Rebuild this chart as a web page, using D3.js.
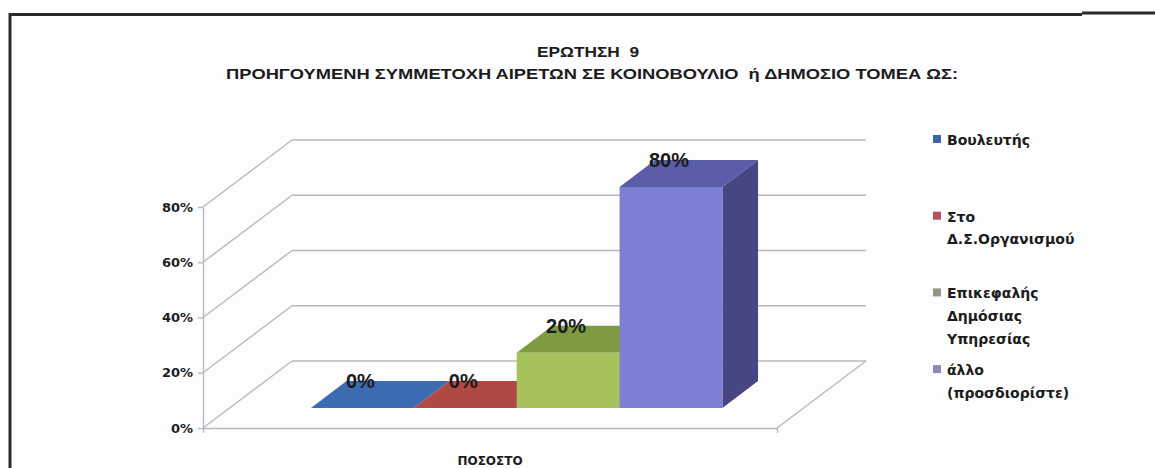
<!DOCTYPE html>
<html>
<head>
<meta charset="utf-8">
<script src="https://cdn.jsdelivr.net/npm/d3@7"></script>
<style>
    body { margin: 0; background: #fcfdfc; }
    svg { display: block; }
    .axis text { font-family: 'DejaVu Sans', sans-serif; font-weight: bold; font-size: 13px; fill: #1e1e22; }
    .axis line, .axis path { stroke: #b9b9bd; stroke-width: 1.4; }
    .grid line { stroke: #b9b9bd; stroke-width: 1.4; }
    .title { font-family: 'Liberation Sans', sans-serif; font-weight: bold; font-size: 15px; fill: #1c1c1e; }
    .legend text { font-family: 'DejaVu Sans', sans-serif; font-weight: bold; font-size: 14px; fill: #1c1c20; }
    .data-label { font-family: 'Liberation Sans', sans-serif; font-weight: bold; font-size: 20px; fill: #1a1a1a; }
    .axis-x text { font-size: 12px; }
</style>
</head>
<body>
<div class="chart-erotisi"><svg><g class="chart-erotisi-container"></g></svg></div>
<script>
'use strict';

var categories = ['ΠΟΣΟΣΤΟ'];
var seriesNames = ['Βουλευτής', 'Στο Δ.Σ.Οργανισμού', 'Επικεφαλής Δημόσιας Υπηρεσίας', 'άλλο (προσδιορίστε)'];
var legendLines = [['Βουλευτής'], ['Στο', 'Δ.Σ.Οργανισμού'], ['Επικεφαλής', 'Δημόσιας', 'Υπηρεσίας'], ['άλλο', '(προσδιορίστε)']];
var seriesValues = [0, 0, 0.2, 0.8];
var yTickValues = [0, 0.2, 0.4, 0.6, 0.8];
var titleLines = ['ΕΡΩΤΗΣΗ  9', 'ΠΡΟΗΓΟΥΜΕΝΗ ΣΥΜΜΕΤΟΧΗ ΑΙΡΕΤΩΝ ΣΕ ΚΟΙΝΟΒΟΥΛΙΟ  ή ΔΗΜΟΣΙΟ ΤΟΜΕΑ ΩΣ:'];

function bar3d() {
    var w = 1155;
    var h = 468;
    var plot = { left: 203, right: 777, bottom: 428, top: 207 };
    var depth = { x: 89, y: -67 };   // oblique depth of the floor
    var barDepth = [0.3, 0.7];       // bars sit in the middle of the floor
    var frontColor = ['#3d6db3', '#b34b47', '#a7c25a', '#7d7fd3'];
    var topColor = ['#3c6bb2', '#b04844', '#7f9b41', '#5b5ca9'];
    var sideColor = ['#2f5690', '#8e3a37', '#6c8537', '#454682'];
    var legendColor = ['#3c66a6', '#b6525f', '#8f9686', '#8c88ba'];
    var svg = d3.select('.chart-erotisi svg').attr('width', w).attr('height', h);
    var g = svg.select('.chart-erotisi-container');
    var scales = {};

    function setupScales() {
        scales.x0 = d3.scaleBand().domain(categories).range([plot.left, plot.right]);
        scales.x1 = d3.scaleBand().domain(seriesNames).range([0, scales.x0.bandwidth()])
            .paddingInner(0).paddingOuter(0.79);
        scales.y = d3.scaleLinear().domain([0, 0.8]).range([plot.bottom, plot.top]);
    }

    function pt(x, v, t) {
        return [x + t * depth.x, scales.y(v) + t * depth.y];
    }

    function poly(points) {
        return 'M' + points.map(function (p) { return p[0] + ',' + p[1]; }).join('L') + 'Z';
    }

    function drawFrame() {
        svg.insert('rect', ':first-child').attr('width', w).attr('height', h).attr('fill', '#fcfdfc');
        var frame = svg.append('g').attr('class', 'frame').attr('stroke', '#2a2a2f').attr('stroke-width', 3).attr('fill', 'none');
        frame.append('path').attr('d', 'M10,468V14.5H1082');
        frame.append('path').attr('d', 'M1082,13H1155');
    }

    function drawTitle() {
        var widths = [102, 732];
        var baselines = [57, 79];
        g.selectAll('.title').data(titleLines).enter().append('text')
            .attr('class', 'title')
            .attr('x', function (d, i) { return i === 0 ? 588 : 592; })
            .attr('y', function (d, i) { return baselines[i]; })
            .attr('text-anchor', 'middle')
            .attr('textLength', function (d, i) { return widths[i]; })
            .attr('lengthAdjust', 'spacingAndGlyphs')
            .style('white-space', 'pre')
            .text(function (d) { return d; });
    }

    function drawWalls() {
        var grid = g.append('g').attr('class', 'grid');
        // side wall diagonals
        grid.selectAll('.diag').data(yTickValues).enter().append('line')
            .attr('class', 'diag')
            .attr('x1', plot.left).attr('y1', function (d) { return scales.y(d); })
            .attr('x2', plot.left + depth.x).attr('y2', function (d) { return scales.y(d) + depth.y; });
        // back wall gridlines
        grid.selectAll('.back').data(yTickValues).enter().append('line')
            .attr('class', 'back')
            .attr('x1', plot.left + depth.x).attr('y1', function (d) { return scales.y(d) + depth.y; })
            .attr('x2', plot.right + depth.x).attr('y2', function (d) { return scales.y(d) + depth.y; });
        // floor right edge
        grid.append('line')
            .attr('x1', plot.right).attr('y1', plot.bottom)
            .attr('x2', plot.right + depth.x).attr('y2', plot.bottom + depth.y);
    }

    function drawAxes() {
        var axisY = d3.axisLeft(scales.y).tickValues(yTickValues)
            .tickFormat(d3.format('.0%')).tickSize(5).tickSizeOuter(0).tickPadding(5);
        g.append('g').attr('class', 'axis axis-y').attr('transform', 'translate(' + plot.left + ',0)').call(axisY);

        var axisX = d3.axisBottom(scales.x0).tickSize(0).tickSizeOuter(5).tickPadding(28);
        g.append('g').attr('class', 'axis axis-x').attr('transform', 'translate(0,' + plot.bottom + ')').call(axisX);
        g.selectAll('.axis .domain').attr('fill', 'none');
    }

    function drawBars() {
        var bars = g.append('g').attr('class', 'bars');
        var bw = scales.x1.bandwidth();
        var t1 = barDepth[0];
        var t2 = barDepth[1];
        seriesNames.forEach(function (name, i) {
            var x = scales.x0(categories[0]) + scales.x1(name);
            var v = seriesValues[i];
            var b = bars.append('g').attr('class', 'bar');
            if (v > 0) {
                b.append('path').attr('fill', sideColor[i])
                    .attr('d', poly([pt(x + bw, 0, t1), pt(x + bw, 0, t2), pt(x + bw, v, t2), pt(x + bw, v, t1)]));
            }
            b.append('path').attr('fill', topColor[i])
                .attr('d', poly([pt(x, v, t1), pt(x + bw, v, t1), pt(x + bw, v, t2), pt(x, v, t2)]));
            if (v > 0) {
                b.append('path').attr('fill', frontColor[i])
                    .attr('d', poly([pt(x, 0, t1), pt(x + bw, 0, t1), pt(x + bw, v, t1), pt(x, v, t1)]));
            }
        });

        bars.selectAll('.data-label').data(seriesValues).enter().append('text')
            .attr('class', 'data-label')
            .attr('text-anchor', 'middle')
            .attr('x', function (d, i) { return pt(scales.x0(categories[0]) + scales.x1(seriesNames[i]) + bw / 2, d, t1)[0] - 2; })
            .attr('y', function (d) { return pt(0, d, t1)[1] - 20; })
            .text(d3.format('.0%'));
    }

    function drawLegend() {
        var legend = g.append('g').attr('class', 'legend').attr('transform', 'translate(933,0)');
        var item = legend.selectAll('.item').data(legendLines).enter().append('g')
            .attr('class', 'item')
            .attr('transform', function (d, i) { return 'translate(0,' + (145 + i * 76.7) + ')'; });
        item.append('rect').attr('x', 0).attr('y', -10).attr('width', 8).attr('height', 8)
            .attr('fill', function (d, i) { return legendColor[i]; });
        item.selectAll('text').data(function (d) { return d; }).enter().append('text')
            .attr('x', 14)
            .attr('y', function (d, j) { return j * 22.7; })
            .text(function (d) { return d; });
    }

    setupScales();
    drawFrame();
    drawTitle();
    drawWalls();
    drawAxes();
    drawBars();
    drawLegend();
}

bar3d();
</script>
</body>
</html>
